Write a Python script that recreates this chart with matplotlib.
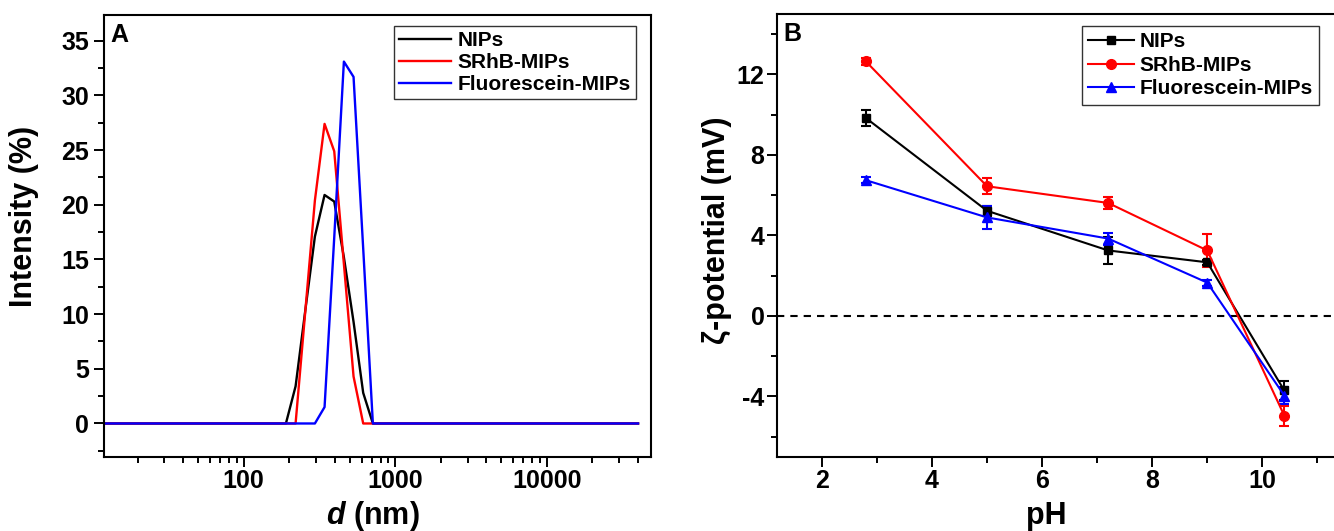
import matplotlib
matplotlib.use("Agg")
import matplotlib.pyplot as plt
from matplotlib.lines import Line2D
from matplotlib.ticker import MultipleLocator, LogLocator, NullFormatter, FuncFormatter

plt.rcParams['font.family'] = ['Liberation Sans', 'DejaVu Sans']
plt.rcParams['font.weight'] = 'bold'
plt.rcParams['axes.unicode_minus'] = False
plt.rcParams['mathtext.fontset'] = 'custom'
plt.rcParams['mathtext.it'] = 'Liberation Sans:italic:bold'
plt.rcParams['mathtext.rm'] = 'Liberation Sans:bold'

# ---------------- Panel A data (DLS size distribution) ----------------
size_nips = [10, 190.1, 220.2, 255.0, 295.3, 342.0, 396.1, 458.7, 531.2, 615.1, 712.4, 40000]
int_nips = [0, 0, 3.4, 10.3, 17.1, 20.9, 20.3, 15.2, 9.3, 2.8, 0, 0]

size_srhb = [10, 220.2, 255.0, 295.3, 342.0, 396.1, 458.7, 531.2, 615.1, 40000]
int_srhb = [0, 0, 10.2, 20.4, 27.4, 24.9, 14.6, 4.3, 0, 0]

size_fluo = [10, 295.3, 342.0, 396.1, 458.7, 531.2, 615.1, 712.4, 40000]
int_fluo = [0, 0, 1.5, 17.0, 33.1, 31.7, 16.0, 0, 0]

series_names = ["NIPs", "SRhB-MIPs", "Fluorescein-MIPs"]
series_colors = ["black", "#ff0000", "#0000ff"]

# ---------------- Panel B data (zeta potential) ----------------
ph = [2.8, 5.0, 7.2, 9.0, 10.4]
zeta_nips = [9.83, 5.22, 3.25, 2.66, -3.71]
err_nips = [0.40, 0.25, 0.65, 0.12, 0.45]
zeta_srhb = [12.64, 6.44, 5.61, 3.25, -4.96]
err_srhb = [0.15, 0.40, 0.30, 0.80, 0.50]
zeta_fluo = [6.74, 4.89, 3.84, 1.65, -3.96]
err_fluo = [0.15, 0.57, 0.30, 0.15, 0.40]

W, H = 1334, 531
fig = plt.figure(figsize=(W / 100, H / 100), dpi=100)

def px_axes(l, t, r, b):
    return fig.add_axes([l / W, 1 - b / H, (r - l) / W, (b - t) / H])

axA = px_axes(103.5, 15, 650.7, 456.5)
axB = px_axes(777.3, 14, 1335.5, 456.7)

for ax in (axA, axB):
    for sp in ax.spines.values():
        sp.set_linewidth(1.5)
    ax.tick_params(which='major', direction='out', length=7.2, width=1.4, top=False, right=False)
    ax.tick_params(which='minor', direction='out', length=4.3, width=1.4, top=False, right=False)

# ---------- Panel A ----------
for sx, sy, name, c in zip([size_nips, size_srhb, size_fluo], [int_nips, int_srhb, int_fluo],
                            series_names, series_colors):
    axA.plot(sx, sy, color=c, lw=1.7, label=name)
axA.set_xscale('log')
axA.set_xlim(11.9, 48500)
axA.set_ylim(-3.02, 37.36)
axA.xaxis.set_major_locator(LogLocator(base=10, numticks=10))
axA.xaxis.set_minor_locator(LogLocator(base=10, subs=[2, 3, 4, 5, 6, 7, 8, 9], numticks=20))
axA.xaxis.set_minor_formatter(NullFormatter())
axA.xaxis.set_major_formatter(FuncFormatter(lambda v, p: f"{int(round(v))}"))
axA.yaxis.set_major_locator(MultipleLocator(5))
axA.yaxis.set_minor_locator(MultipleLocator(2.5))
axA.tick_params(axis='x', labelsize=18, pad=1.5)
axA.tick_params(axis='y', labelsize=18, pad=3.0)
legA = axA.legend(loc='upper right', bbox_to_anchor=(636 / W, 1 - 25.7 / H), bbox_transform=fig.transFigure,
                  fontsize=15, frameon=True, fancybox=False, framealpha=1, edgecolor='#333333',
                  borderpad=0.25, labelspacing=0.15, handlelength=2.5, handletextpad=0.3,
                  borderaxespad=0)
legA.get_frame().set_linewidth(1.0)

fig.text(110 / W, 1 - 35.5 / H, "A", fontsize=18, weight='bold', ha='left', va='center')
fig.text(24 / W, 1 - 216 / H, "Intensity (%)", fontsize=22, weight='bold', rotation=90,
         ha='center', va='center')
fig.text(373 / W, 1 - 516 / H, r"$\it{d}$ (nm)", fontsize=22, weight='bold', ha='center', va='center')

# ---------- Panel B ----------
markers = ['s', 'o', '^']
msizes = [6, 7, 7.5]
handles = []
for z, e, name, c, m, ms in zip([zeta_nips, zeta_srhb, zeta_fluo], [err_nips, err_srhb, err_fluo],
                                series_names, series_colors, markers, msizes):
    axB.errorbar(ph, z, yerr=e, color=c, marker=m, ms=ms, lw=1.5, elinewidth=1.5,
                 capsize=3.6, capthick=1.5)
    handles.append(Line2D([], [], color=c, marker=m, ms=ms, lw=1.5, label=name))
axB.axhline(0, color='black', lw=1.5, dashes=(3.5, 2.9))
axB.set_xlim(1.19, 11.33)
axB.set_ylim(-7, 15)
axB.xaxis.set_major_locator(MultipleLocator(2))
axB.xaxis.set_minor_locator(MultipleLocator(1))
axB.yaxis.set_major_locator(MultipleLocator(4))
axB.yaxis.set_minor_locator(MultipleLocator(2))
axB.tick_params(axis='x', labelsize=18, pad=1.5)
axB.tick_params(axis='y', labelsize=18, pad=2.0)
legB = axB.legend(handles=handles, loc='upper right', bbox_to_anchor=(1319 / W, 1 - 26 / H),
                  bbox_transform=fig.transFigure,
                  fontsize=15, frameon=True, fancybox=False, framealpha=1, edgecolor='#333333',
                  borderpad=0.3, labelspacing=0.22, handlelength=2.2, handletextpad=0.25,
                  borderaxespad=0)
legB.get_frame().set_linewidth(1.0)

fig.text(783.3 / W, 1 - 34.3 / H, "B", fontsize=18, weight='bold', ha='left', va='center')
fig.text(717.5 / W, 1 - 230 / H, "ζ-potential (mV)", fontsize=22, weight='bold', rotation=90,
         ha='center', va='center')
fig.text(1045.8 / W, 1 - 516 / H, "pH", fontsize=22, weight='bold', ha='center', va='center')

fig.savefig("out.png", dpi=100)
